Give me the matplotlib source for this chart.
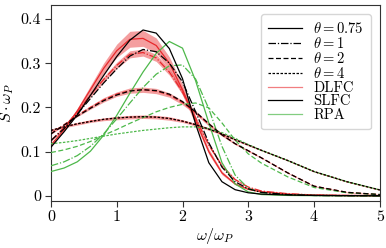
import numpy as np
import matplotlib
matplotlib.use("Agg")
import matplotlib.pyplot as plt
from matplotlib.ticker import FuncFormatter

plt.rcParams['font.family'] = 'serif'
plt.rcParams['font.serif'] = ['cmr10']
plt.rcParams['mathtext.fontset'] = 'cm'
plt.rcParams['axes.unicode_minus'] = False

# frequency grid omega/omega_P
omega = [0, 0.2, 0.4, 0.6, 0.8, 1.0, 1.2, 1.4, 1.6, 1.8, 2.0, 2.2, 2.4, 2.6, 2.8, 3.0, 3.2, 3.6, 4.0, 4.5, 5.0]

thetas = ["0.75", "1", "2", "4"]

# SLFC (black)
slfc_075 = [0.110, 0.145, 0.183, 0.227, 0.272, 0.315, 0.352, 0.375, 0.368, 0.333, 0.265, 0.162, 0.075, 0.032, 0.014, 0.007, 0.004, 0.002, 0.001, 0.0005, 0.0003]
slfc_1   = [0.125, 0.152, 0.185, 0.220, 0.255, 0.287, 0.316, 0.331, 0.326, 0.300, 0.258, 0.190, 0.120, 0.065, 0.032, 0.016, 0.008, 0.003, 0.001, 0.0005, 0.0003]
slfc_2   = [0.140, 0.160, 0.180, 0.198, 0.215, 0.228, 0.237, 0.240, 0.238, 0.230, 0.213, 0.190, 0.163, 0.138, 0.118, 0.102, 0.086, 0.052, 0.022, 0.008, 0.003]
slfc_4   = [0.148, 0.156, 0.163, 0.168, 0.173, 0.176, 0.178, 0.179, 0.178, 0.175, 0.169, 0.161, 0.151, 0.140, 0.127, 0.115, 0.103, 0.080, 0.055, 0.032, 0.0135]

# DLFC (red) mean and half-width of uncertainty band
dlfc_075 = [0.115, 0.150, 0.192, 0.240, 0.288, 0.328, 0.354, 0.356, 0.340, 0.300, 0.240, 0.170, 0.100, 0.052, 0.027, 0.015, 0.009, 0.004, 0.002, 0.001, 0.0005]
dlfc_1   = [0.125, 0.155, 0.190, 0.228, 0.263, 0.295, 0.320, 0.324, 0.312, 0.280, 0.235, 0.175, 0.115, 0.068, 0.037, 0.020, 0.011, 0.005, 0.002, 0.001, 0.0005]
dlfc_2   = [0.141, 0.161, 0.182, 0.200, 0.217, 0.230, 0.238, 0.240, 0.237, 0.228, 0.211, 0.188, 0.162, 0.138, 0.118, 0.102, 0.086, 0.052, 0.022, 0.008, 0.003]
dlfc_4   = [0.148, 0.156, 0.163, 0.169, 0.173, 0.176, 0.178, 0.179, 0.178, 0.175, 0.169, 0.161, 0.151, 0.140, 0.127, 0.115, 0.103, 0.080, 0.055, 0.032, 0.0135]
err_075  = [0.003, 0.004, 0.006, 0.009, 0.012, 0.015, 0.018, 0.018, 0.017, 0.014, 0.012, 0.009, 0.006, 0.004, 0.002, 0.001, 0.001, 0.001, 0.001, 0.001, 0.001]
err_1    = [0.002, 0.003, 0.004, 0.005, 0.006, 0.007, 0.008, 0.008, 0.008, 0.007, 0.006, 0.005, 0.004, 0.003, 0.002, 0.001, 0.001, 0.001, 0.001, 0.001, 0.001]
err_2    = [0.002, 0.002, 0.003, 0.004, 0.005, 0.005, 0.006, 0.006, 0.006, 0.005, 0.005, 0.004, 0.004, 0.003, 0.002, 0.002, 0.001, 0.001, 0.001, 0.001, 0.001]
err_4    = [0.002, 0.002, 0.003, 0.003, 0.003, 0.004, 0.004, 0.004, 0.004, 0.004, 0.003, 0.003, 0.003, 0.002, 0.002, 0.002, 0.001, 0.001, 0.001, 0.001, 0.001]

# RPA (green)
rpa_075 = [0.055, 0.063, 0.077, 0.101, 0.137, 0.182, 0.232, 0.280, 0.322, 0.349, 0.334, 0.260, 0.165, 0.075, 0.027, 0.009, 0.003, 0.001, 0.0005, 0.0003, 0.0002]
rpa_1   = [0.068, 0.077, 0.091, 0.112, 0.140, 0.174, 0.210, 0.245, 0.275, 0.294, 0.296, 0.264, 0.197, 0.112, 0.047, 0.017, 0.007, 0.002, 0.001, 0.0005, 0.0003]
rpa_2   = [0.098, 0.104, 0.112, 0.123, 0.137, 0.150, 0.164, 0.177, 0.190, 0.200, 0.207, 0.210, 0.199, 0.165, 0.126, 0.095, 0.074, 0.043, 0.019, 0.007, 0.003]
rpa_4   = [0.118, 0.121, 0.125, 0.130, 0.135, 0.140, 0.144, 0.148, 0.151, 0.154, 0.156, 0.156, 0.152, 0.143, 0.130, 0.116, 0.103, 0.080, 0.055, 0.032, 0.0135]

slfc = [slfc_075, slfc_1, slfc_2, slfc_4]
dlfc = [dlfc_075, dlfc_1, dlfc_2, dlfc_4]
errs = [err_075, err_1, err_2, err_4]
rpa = [rpa_075, rpa_1, rpa_2, rpa_4]

styles = ['-', (0, (6, 1.5, 1, 1.5)), (0, (4, 2)), (0, (2, 1.2))]
red = '#e8282b'
green = '#4db84a'
lw = 0.9

fig = plt.figure(figsize=(3.86, 2.48), dpi=100)
ax = fig.add_axes([0.132, 0.19, 0.852, 0.79])

x = np.array(omega)
for d, e in zip(dlfc, errs):
    d = np.array(d); e = np.array(e)
    ax.fill_between(x, d - e, d + e, color=red, alpha=0.45, lw=0, zorder=1)
for d, s in zip(dlfc, styles):
    ax.plot(x, d, color=red, ls=s, lw=lw, zorder=2)
for r, s in zip(rpa, styles):
    ax.plot(x, r, color=green, ls=s, lw=lw, zorder=3)
for sl, s in zip(slfc, styles):
    ax.plot(x, sl, color='black', ls=s, lw=lw, zorder=4)

ax.set_xlim(0, 5)
ax.set_ylim(-0.0113, 0.4316)
ax.set_xticks([0, 1, 2, 3, 4, 5])
ax.set_yticks([0, 0.1, 0.2, 0.3, 0.4])
ax.xaxis.set_major_formatter(FuncFormatter(lambda v, p: '%g' % v))
ax.yaxis.set_major_formatter(FuncFormatter(lambda v, p: '%g' % v))
ax.tick_params(labelsize=11.5, width=0.8, length=4, color='#333333', pad=3)
for sp in ax.spines.values():
    sp.set_color('#333333')
    sp.set_linewidth(0.8)
ax.set_xlabel(r'$\omega/\omega_P$', fontsize=11.5, labelpad=1)
ax.set_ylabel(r'$S\cdot\omega_P$', fontsize=11.5)
ax.yaxis.set_label_coords(-0.105, 0.5)

handles = []
for t, s in zip(thetas, styles):
    handles.append(plt.Line2D([], [], color='black', ls=s, lw=lw, label=r'$\theta = %s$' % t))
handles.append(plt.Line2D([], [], color=red, lw=lw, alpha=0.6, label='DLFC'))
handles.append(plt.Line2D([], [], color='black', lw=lw, label='SLFC'))
handles.append(plt.Line2D([], [], color=green, lw=lw, alpha=0.7, label='RPA'))
leg = ax.legend(handles=handles, loc='upper right', fontsize=10.5, handlelength=2.3,
                labelspacing=0.0, borderpad=0.5, handletextpad=0.8,
                borderaxespad=0.6,
                framealpha=0.8, edgecolor='#cccccc', fancybox=True)

fig.savefig('out.png', dpi=100)
